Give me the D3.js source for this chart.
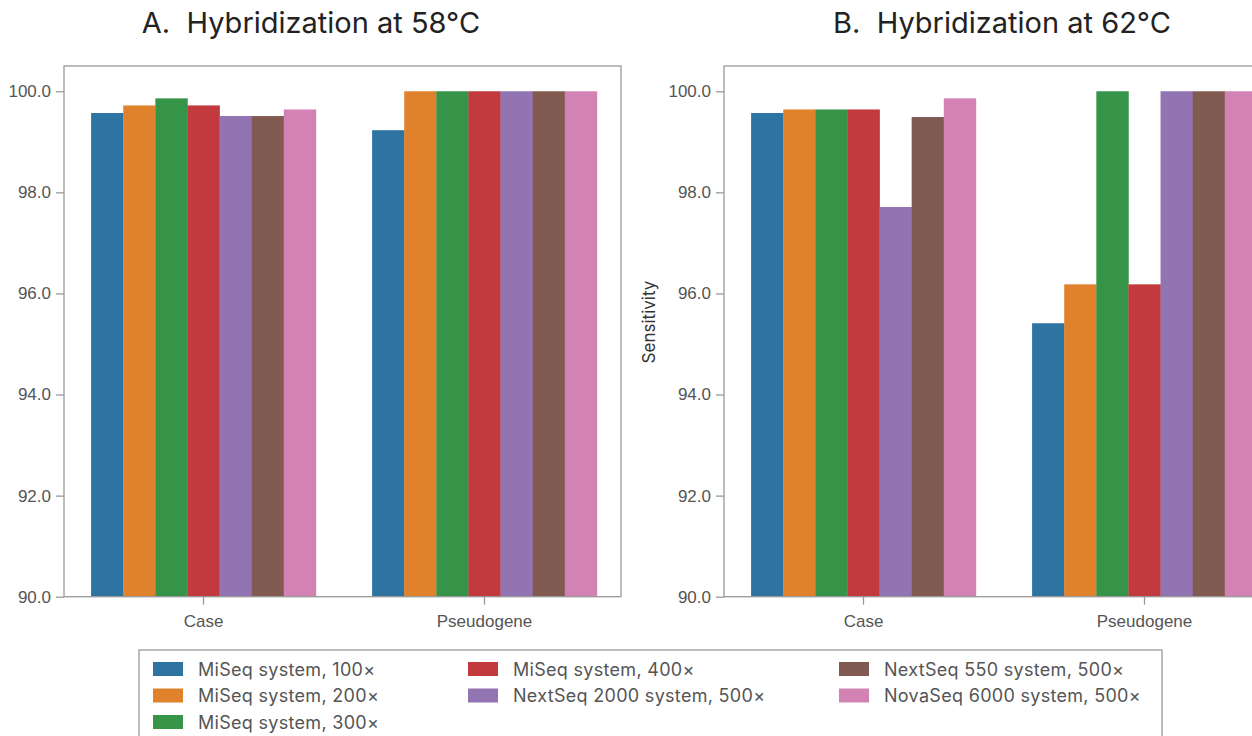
<!DOCTYPE html>
<html>
<head>
<meta charset="utf-8">
<script src="https://cdn.jsdelivr.net/npm/d3@7/dist/d3.min.js"></script>
<style>
  body { margin: 0; background: #fff; }
  svg { font-family: Inter, "Noto Sans", sans-serif; }
  .axis text { fill: #555; font-size: 17px; }
  .axis path, .axis line { stroke: #999; stroke-width: 1.3; }
</style>
</head>
<body>
<div id="chart"></div>
<script>
// data
var categories = ["Case", "Pseudogene"];
var series = ["MiSeq system, 100×", "MiSeq system, 200×", "MiSeq system, 300×",
              "MiSeq system, 400×", "NextSeq 2000 system, 500×",
              "NextSeq 550 system, 500×", "NovaSeq 6000 system, 500×"];
var colors = ["#2d74a2", "#e0812b", "#369449", "#c23a3e", "#9374b3", "#815b52", "#d283b4"];

var sens58Case = [99.57, 99.72, 99.86, 99.72, 99.51, 99.51, 99.64];
var sens58Pseudo = [99.23, 100.0, 100.0, 100.0, 100.0, 100.0, 100.0];
var sens62Case = [99.57, 99.64, 99.64, 99.64, 97.71, 99.49, 99.86];
var sens62Pseudo = [95.41, 96.18, 100.0, 96.18, 100.0, 100.0, 100.0];

var yTicks = [90, 92, 94, 96, 98, 100];

// legend slots: column, row
var legendCol = [0, 0, 0, 1, 1, 2, 2];
var legendRow = [0, 1, 2, 0, 1, 0, 1];

var width = 1252, height = 736;

var svg = d3.select("#chart").append("svg")
    .attr("width", width)
    .attr("height", height);

var y = d3.scaleLinear().domain([90, 100.5]).range([596.7, 66]);

var panels = [
  {title: "A.  Hybridization at 58°C", titleX: 311, frame: [64, 621], band: [63, 625],
   values: [sens58Case, sens58Pseudo], ylabel: null},
  {title: "B.  Hybridization at 62°C", titleX: 1002, frame: [724, 1300], band: [723, 1285],
   values: [sens62Case, sens62Pseudo], ylabel: "Sensitivity"}
];

panels.forEach(function(p) {
  var x0 = d3.scaleBand().domain(categories).range(p.band)
      .paddingInner(0.2).paddingOuter(0.1);
  var x1 = d3.scaleBand().domain(series).range([0, x0.bandwidth()]);

  var g = svg.append("g");

  var groups = g.selectAll(".grp")
      .data(categories)
      .enter().append("g")
      .attr("transform", function(c) { return "translate(" + x0(c) + ",0)"; });

  groups.selectAll("rect")
      .data(function(c, i) {
        return p.values[i].map(function(v, j) { return {s: series[j], v: v, c: colors[j]}; });
      })
      .enter().append("rect")
      .attr("x", function(d) { return x1(d.s); })
      .attr("y", function(d) { return y(d.v); })
      .attr("width", x1.bandwidth() + 0.3)
      .attr("height", function(d) { return y(90) - y(d.v); })
      .attr("fill", function(d) { return d.c; });

  // frame
  g.append("rect")
      .attr("x", p.frame[0])
      .attr("y", y(100.5))
      .attr("width", p.frame[1] - p.frame[0])
      .attr("height", y(90) - y(100.5))
      .attr("fill", "none")
      .attr("stroke", "#999")
      .attr("stroke-width", 1.3);

  g.append("g")
      .attr("class", "axis")
      .attr("transform", "translate(" + p.frame[0] + ",0)")
      .call(d3.axisLeft(y).tickValues(yTicks).tickFormat(d3.format(".1f"))
            .tickSize(8).tickPadding(5).tickSizeOuter(0))
      .select(".domain").remove();

  g.append("g")
      .attr("class", "axis")
      .attr("transform", "translate(0," + y(90) + ")")
      .call(d3.axisBottom(x0).tickSize(8).tickPadding(10).tickSizeOuter(0))
      .select(".domain").remove();

  g.append("text")
      .attr("x", p.titleX)
      .attr("y", 33)
      .attr("text-anchor", "middle")
      .attr("fill", "#222")
      .style("font-size", "29px")
      .style("white-space", "pre")
      .text(p.title);

  if (p.ylabel) {
    g.append("text")
        .attr("transform", "translate(655,322) rotate(-90)")
        .attr("text-anchor", "middle")
        .attr("fill", "#333")
        .style("font-size", "17px")
        .text(p.ylabel);
  }
});

// legend
var legend = svg.append("g");
legend.append("rect")
    .attr("x", 139).attr("y", 650)
    .attr("width", 1023).attr("height", 100)
    .attr("fill", "#fff")
    .attr("stroke", "#999")
    .attr("stroke-width", 1.3);

var colX = [153, 468, 839];
var item = legend.selectAll(".item")
    .data(series)
    .enter().append("g")
    .attr("transform", function(d, i) {
      return "translate(" + colX[legendCol[i]] + "," + (662 + legendRow[i] * 26.5) + ")";
    });

item.append("rect")
    .attr("width", 30).attr("height", 14)
    .attr("fill", function(d, i) { return colors[i]; });

item.append("text")
    .attr("x", 45).attr("y", 13.5)
    .attr("fill", "#555")
    .style("font-size", "18px")
    .style("letter-spacing", "0.3px")
    .text(function(d) { return d; });
</script>
</body>
</html>
